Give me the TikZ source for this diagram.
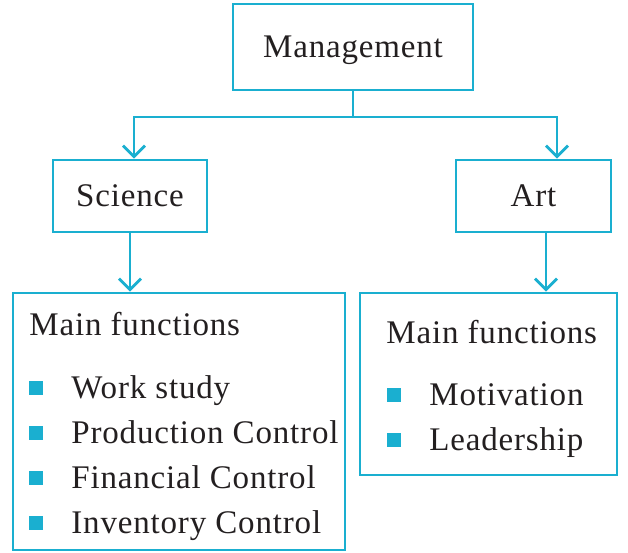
\documentclass[tikz,border=0pt]{standalone}
\usepackage{fontspec}
\setmainfont[LetterSpace=2.5]{Liberation Serif}
\usetikzlibrary{arrows.meta}
\definecolor{boxcyan}{HTML}{1AAFD0}
\definecolor{inkgray}{HTML}{231F20}

\begin{document}
\begin{tikzpicture}[x=1pt, y=-1pt, line width=2.8pt,
  every node/.style={font=\fontsize{33}{40}\selectfont, text=inkgray},
  box/.style={draw=boxcyan, inner sep=0pt, text height=22pt, text depth=0pt},
  item/.style={anchor=base west, inner sep=0pt},
  bullet/.style={fill=boxcyan, minimum width=14pt, minimum height=14pt, inner sep=0pt, anchor=south west},
  link/.style={draw=boxcyan, -{Straight Barb[length=11pt,width=22pt,line width=2.8pt]}}]
  \useasboundingbox (0,0) rectangle (628,553);

  \node (mgmt) at (353,47) [box, minimum width=240pt, minimum height=86pt] {Management};
  \node (sci) at (130,196) [box, minimum width=154pt, minimum height=72pt] {Science};
  \node (art) at (533.5,196) [box, minimum width=155pt, minimum height=72pt] {Art};
  \node (scifun) at (179,421.5) [box, minimum width=332pt, minimum height=257pt] {};
  \node (artfun) at (488.5,384) [box, minimum width=257pt, minimum height=182pt] {};

  % list of the science side
  \node (scihead) at (28,335) [item] {Main functions};
  \foreach \txt [count=\i] in {Work study, Production Control, Financial Control, Inventory Control} {
    \node (scidot\i) at (28,351+45*\i) [bullet] {};
    \node (sciitem\i) at (70,353+45*\i) [item] {\txt};
  }

  % list of the art side
  \node (arthead) at (385,343) [item] {Main functions};
  \foreach \txt [count=\i] in {Motivation, Leadership} {
    \node (artdot\i) at (386,358+45*\i) [bullet] {};
    \node (artitem\i) at (428,360+45*\i) [item] {\txt};
  }

  \coordinate (bus) at (0,117);
  \draw[link, -] (mgmt.south) -- (mgmt.south |- bus);
  \draw[link] (mgmt.south |- bus) -| ([xshift=4pt]sci.north);
  \draw[link] (mgmt.south |- bus) -| ([xshift=23.5pt]art.north);
  \draw[link] (sci.south) -- (sci.south |- scifun.north);
  \draw[link] ([xshift=12.5pt]art.south) -- ([xshift=12.5pt]art.south |- artfun.north);
\end{tikzpicture}
\end{document}
